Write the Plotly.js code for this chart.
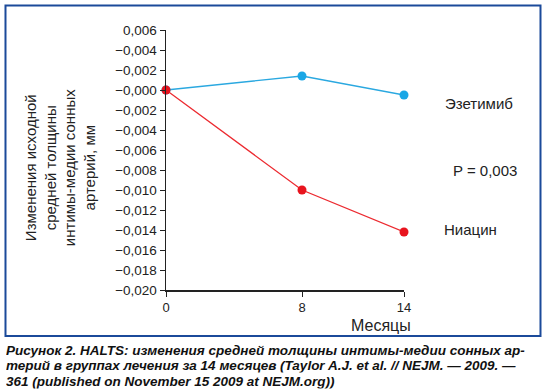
<!DOCTYPE html>
<html>
<head>
<meta charset="utf-8">
<script src="https://cdn.plot.ly/plotly-3.0.1.min.js"></script>
<style>html,body{margin:0;padding:0;background:#fff;}#chart{width:550px;height:389px;}</style>
</head>
<body>
<div id="chart"></div>
<script>
const months = [0, 8, 14];
const ezetimibe = [0.0000, 0.0014, -0.0005];
const niacin = [0.0000, -0.0100, -0.0142];
const yTickVals = [0.006, 0.004, 0.002, 0.000, -0.002, -0.004, -0.006, -0.008, -0.010, -0.012, -0.014, -0.016, -0.018, -0.020];
const yTickText = ["0,006", "−0,004", "−0,002", "−0,000", "−0,002", "−0,004", "−0,006", "−0,008", "−0,010", "−0,012", "−0,014", "−0,016", "−0,018", "−0,020"];
const xTickVals = [0, 8, 14];
const xTickText = ["0", "8", "14"];
const captionLines = [
  "Рисунок 2. HALTS: изменения средней толщины интимы-медии сонных ар-",
  "терий в группах лечения за 14 месяцев (Taylor A.J. et al. // NEJM. — 2009. —",
  "361 (published on November 15 2009 at NEJM.org))"
];

const font = "Liberation Sans, Arial, sans-serif";
const traces = [
  {x: months, y: ezetimibe, type: 'scatter', mode: 'lines+markers', name: 'Эзетимиб',
   line: {color: '#2aa8e0', width: 1.3}, marker: {color: '#1aa7e6', size: 9}, cliponaxis: false},
  {x: months, y: niacin, type: 'scatter', mode: 'lines+markers', name: 'Ниацин',
   line: {color: '#ec2a30', width: 1.3}, marker: {color: '#e8141e', size: 9}, cliponaxis: false}
];
const captionY = [-0.2346, -0.2923, -0.35];
const annotations = [
  {text: 'Эзетимиб', x: 1.315, y: 0.719, font: {size: 15, color: '#222'}},
  {text: 'P = 0,003', x: 1.340, y: 0.4615, font: {size: 15, color: '#222'}},
  {text: 'Ниацин', x: 1.28, y: 0.2346, font: {size: 15, color: '#222'}},
  {text: 'Месяцы', x: 0.903, y: -0.138, font: {size: 16, color: '#222'}},
  {text: 'Изменения исходной<br>средней толщины<br>интимы-медии сонных<br>артерий, мм',
   x: -0.445, y: 0.469, textangle: -90, font: {size: 15, color: '#222'}}
].map(a => Object.assign({xref: 'paper', yref: 'paper', xanchor: 'center', yanchor: 'middle', showarrow: false}, a));
captionLines.forEach((t, i) => annotations.push({
  text: '<b><i>' + t + '</i></b>', xref: 'paper', yref: 'paper', x: -0.676, y: captionY[i],
  xanchor: 'left', yanchor: 'middle', align: 'left', showarrow: false, height: 14.5, borderpad: 0,
  font: {size: 13.5, color: '#111'}
}));

const layout = {
  width: 550, height: 389,
  margin: {l: 166, r: 146, t: 30, b: 99},
  showlegend: false,
  paper_bgcolor: '#fff', plot_bgcolor: '#fff',
  font: {family: font, color: '#222'},
  xaxis: {range: [0, 14], tickvals: xTickVals, ticktext: xTickText, showgrid: false, zeroline: false,
          showline: true, linecolor: '#222', linewidth: 1.5, ticks: 'outside', ticklen: 5, tickcolor: '#222',
          tickfont: {size: 13, color: '#222'}},
  yaxis: {range: [-0.020, 0.006], tickvals: yTickVals, ticktext: yTickText, showgrid: false, zeroline: false,
          showline: true, linecolor: '#222', linewidth: 1.5, ticks: 'outside', ticklen: 5, tickcolor: '#222',
          tickfont: {size: 13.5, color: '#222'}},
  shapes: [{type: 'rect', xref: 'paper', yref: 'paper', x0: -0.6744, x1: 1.5735, y0: -0.1769, y1: 1.0942,
            line: {color: '#1b4a9a', width: 2}}],
  annotations: annotations
};
Plotly.newPlot('chart', traces, layout, {staticPlot: true, displayModeBar: false});
</script>
</body>
</html>
